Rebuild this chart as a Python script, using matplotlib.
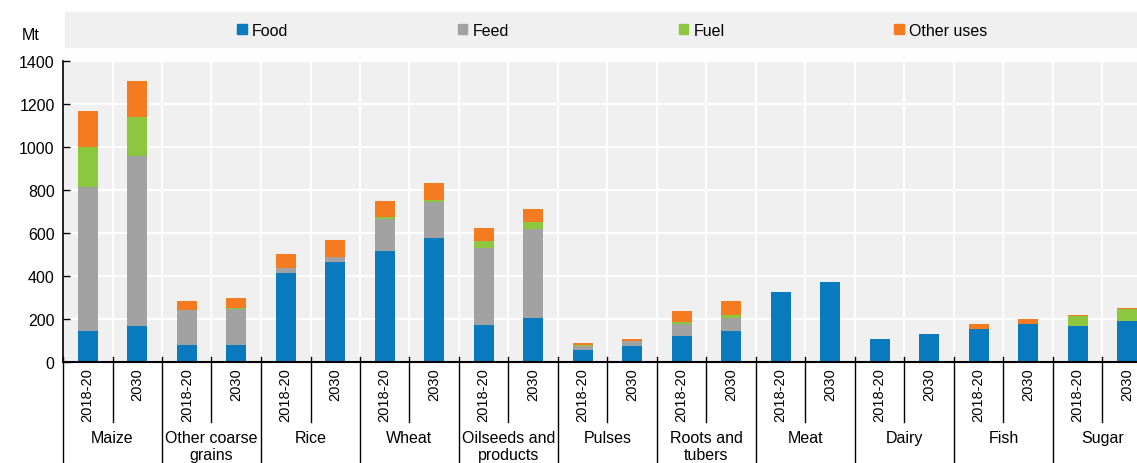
import numpy as np
import matplotlib.pyplot as plt
from matplotlib import font_manager
from matplotlib.patches import Rectangle, Patch
import matplotlib.transforms as mtransforms

plt.rcParams['font.family'] = ['Liberation Sans', 'DejaVu Sans']

categories = ['Maize', 'Other coarse\ngrains', 'Rice', 'Wheat',
              'Oilseeds and\nproducts', 'Pulses', 'Roots and\ntubers',
              'Meat', 'Dairy', 'Fish', 'Sugar']
periods = ['2018-20', '2030']

# Mt per use, two bars per commodity (2018-20, 2030)
food = [144, 167, 79, 79, 413, 464, 517, 575, 172, 204, 56, 74,
        121, 144, 325, 370, 107, 131, 155, 178, 167, 193]
feed = [671, 791, 161, 169, 22, 25, 148, 169, 360, 415, 18, 22,
        57, 62, 0, 0, 0, 0, 0, 0, 0, 0]
fuel = [186, 182, 4, 4, 1, 0, 11, 11, 33, 32, 3, 1,
        8, 12, 0, 0, 0, 0, 0, 0, 46, 55]
other = [165, 167, 42, 47, 68, 77, 73, 79, 57, 62, 10, 10,
         52, 64, 0, 0, 0, 0, 21, 20, 4, 1]

series = [('Food', food, '#0a7abf'),
          ('Feed', feed, '#a2a2a2'),
          ('Fuel', fuel, '#8dc63f'),
          ('Other uses', other, '#f47b20')]

# year labels in the original use a condensed face
installed = {f.name for f in font_manager.fontManager.ttflist}
if 'Liberation Sans Narrow' in installed:
    year_font, year_size = 'Liberation Sans Narrow', 12.5
else:
    year_font, year_size = 'Liberation Sans', 10.5

fig = plt.figure(figsize=(11.37, 4.64), dpi=100)
ax = fig.add_axes([63 / 1137, 101 / 464, 1089 / 1137, 301 / 464])
ax.set_facecolor('#f0f0f0')

n = len(food)
x = np.arange(n) + 0.5
bottom = np.zeros(n)
for name, vals, col in series:
    vals = np.array(vals, dtype=float)
    ax.bar(x, vals, width=0.4, bottom=bottom, color=col, label=name,
           zorder=3)
    bottom += vals

ax.set_xlim(0, n)
ax.set_ylim(0, 1400)
ax.set_yticks(np.arange(0, 1401, 200))
ax.tick_params(axis='y', direction='in', length=5, width=1,
               labelsize=11.5, pad=6)
ax.set_xticks(np.arange(1, n))
ax.tick_params(axis='x', length=0, labelbottom=False)
ax.grid(True, color='white', linewidth=1.5, zorder=1)
ax.set_axisbelow(True)
for s in ['top', 'right']:
    ax.spines[s].set_visible(False)
ax.spines['left'].set_linewidth(1.2)
ax.spines['bottom'].set_linewidth(1.5)
ax.spines['bottom'].set_zorder(4)

trans = mtransforms.blended_transform_factory(ax.transData, ax.transAxes)

# year labels under each bar
for i in range(n):
    ax.text(x[i], -0.017, periods[i % 2], rotation=90, ha='center',
            va='top', fontsize=year_size, family=year_font, transform=trans)

# separators: short between years, long between commodities
for b in range(n + 1):
    low = -0.2 if b % 2 else -0.4
    ax.plot([b, b], [0.015, low], color='black', lw=1, transform=trans,
            clip_on=False, zorder=5)

for j, cat in enumerate(categories):
    ax.text(2 * j + 1, -0.227, cat, ha='center', va='top', fontsize=11.5,
            linespacing=1.15, transform=trans)

fig.text(31 / 1137, 1 - 36 / 464, 'Mt', ha='center', va='center',
         fontsize=11.5)

# legend band
fig.patches.append(Rectangle((65 / 1137, 1 - 48 / 464), 1.0, 35 / 464,
                             transform=fig.transFigure, color='#f0f0f0',
                             zorder=0))
handles = [Patch(color=c, label=nm) for nm, _, c in series]
fig.legend(handles=handles, loc='center left', ncol=4,
           bbox_to_anchor=(237 / 1137, 1 - 31 / 464), frameon=False,
           fontsize=11.5, handlelength=0.6, handleheight=0.6,
           handletextpad=0.35, columnspacing=10.6, borderpad=0,
           borderaxespad=0)

fig.savefig('out.png', dpi=100)
